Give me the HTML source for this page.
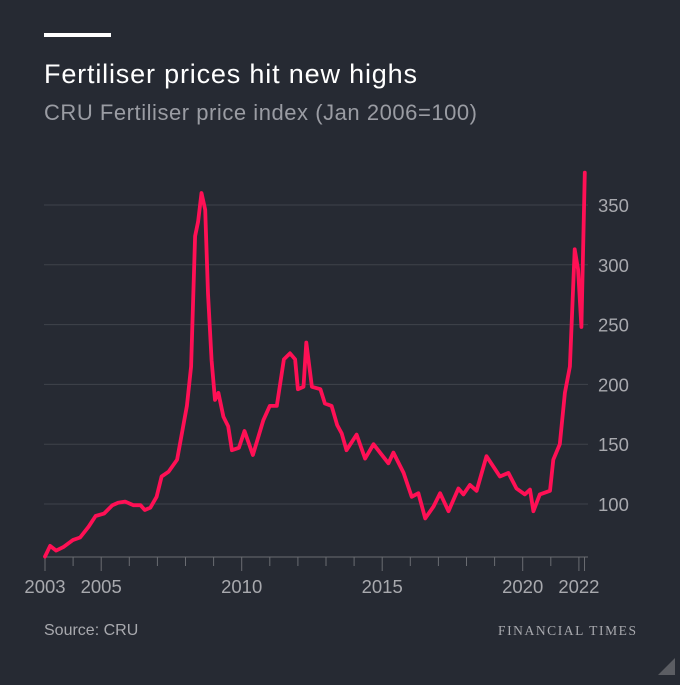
<!DOCTYPE html>
<html><head><meta charset="utf-8"><style>
html,body{margin:0;padding:0;background:#262a33;}
body{width:680px;height:680px;overflow:hidden;position:relative;font-family:"Liberation Sans",sans-serif;}
</style></head><body>
<svg width="680" height="680" viewBox="0 0 680 680">
<rect width="680" height="680" fill="#262a33"/>
<rect x="44" y="33" width="67" height="4" fill="#ffffff"/>
<text x="44" y="83" font-size="27" fill="#ffffff" textLength="373">Fertiliser prices hit new highs</text>
<text x="44" y="120" font-size="22" fill="#9a9ca3" textLength="433">CRU Fertiliser price index (Jan 2006=100)</text>
<g id="grid"></g><g id="axes"></g><g id="series"></g>
<text x="44" y="635" font-size="16" fill="#a8a9ae">Source: CRU</text>
<text x="636" y="635" font-size="13.5" fill="#a8a9ae" text-anchor="end" font-family="Liberation Serif, serif" textLength="138">FINANCIAL TIMES</text>
<polygon points="675,658 675,675 658,675" fill="#5b5d63"/>
</svg>
<script>
const yTicks=[100,150,200,250,300,350];
const xTickYears=[2003,2004,2005,2006,2007,2008,2009,2010,2011,2012,2013,2014,2015,2016,2017,2018,2019,2020,2021,2022];
const xLabels=[2003,2005,2010,2015,2020,2022];
const years=[2003.0,2003.18,2003.4,2003.65,2004.0,2004.25,2004.55,2004.8,2005.1,2005.4,2005.6,2005.85,2006.15,2006.4,2006.55,2006.75,2006.97,2007.15,2007.4,2007.7,2008.05,2008.2,2008.34,2008.45,2008.57,2008.7,2008.8,2008.93,2009.05,2009.17,2009.35,2009.52,2009.65,2009.9,2010.1,2010.4,2010.77,2011.0,2011.25,2011.5,2011.72,2011.9,2012.0,2012.2,2012.3,2012.5,2012.8,2012.96,2013.2,2013.4,2013.56,2013.73,2014.09,2014.39,2014.69,2014.92,2015.22,2015.4,2015.76,2016.05,2016.29,2016.53,2016.83,2017.06,2017.36,2017.71,2017.89,2018.12,2018.36,2018.71,2019.19,2019.49,2019.78,2020.08,2020.26,2020.38,2020.61,2020.97,2021.09,2021.32,2021.5,2021.68,2021.85,2021.97,2022.09,2022.21];
const values=[56,65,61,64,70,72,81,90,92,99,101,102,99,99,95,97,106,123,127,137,182,215,324,336,360,346,276,220,187,193,173,165,145,147,161,141,170,182,182,221,226,221,196,198,235,198,196,184,182,166,159,145,158,138,150,143,134,143,126,106,109,88,98,109,94,113,108,116,111,140,123,126,113,108,112,94,108,111,137,150,193,215,313,296,248,377];
const X=y=>45+(y-2003)*28.1;
const Y=v=>504-(v-100)*1.196;
const NS='http://www.w3.org/2000/svg';
const grid=document.getElementById('grid'),axes=document.getElementById('axes'),series=document.getElementById('series');
function mk(tag,attrs,parent){const e=document.createElementNS(NS,tag);for(const k in attrs)e.setAttribute(k,attrs[k]);parent.appendChild(e);return e;}
yTicks.forEach(v=>{
  const l=mk('line',{x1:44,x2:588,y1:Y(v),y2:Y(v),stroke:'#3f434b','stroke-width':1},grid);
  
  
  const t=mk('text',{x:598,y:Y(v)+7,'font-size':18.5,fill:'#a8a9ae'},axes);
  t.textContent=v;
  
  
});
const base=mk('line',{x1:44,x2:588,y1:557,y2:557,stroke:'#6a6c72','stroke-width':1},axes);


xTickYears.forEach(yr=>{
  const big=xLabels.includes(yr);
  const l=mk('line',{x1:X(yr),x2:X(yr),y1:557,y2:big?571:566,stroke:'#6a6c72','stroke-width':1},axes);
  
  
});
const endTick=mk('line',{x1:X(2022.2),x2:X(2022.2),y1:557,y2:571,stroke:'#6a6c72','stroke-width':1},axes);


xLabels.forEach(yr=>{
  const t=mk('text',{x:X(yr),y:593,'font-size':18.5,fill:'#a8a9ae','text-anchor':'middle'},axes);
  t.textContent=yr;
  
  
});
const d=years.map((yr,i)=>(i?'L':'M')+X(yr).toFixed(1)+','+Y(values[i]).toFixed(1)).join('');
const p=mk('path',{d:d,fill:'none',stroke:'#ff1055','stroke-width':3.8,'stroke-linejoin':'round','stroke-linecap':'round'},series);


</script>
</body></html>
